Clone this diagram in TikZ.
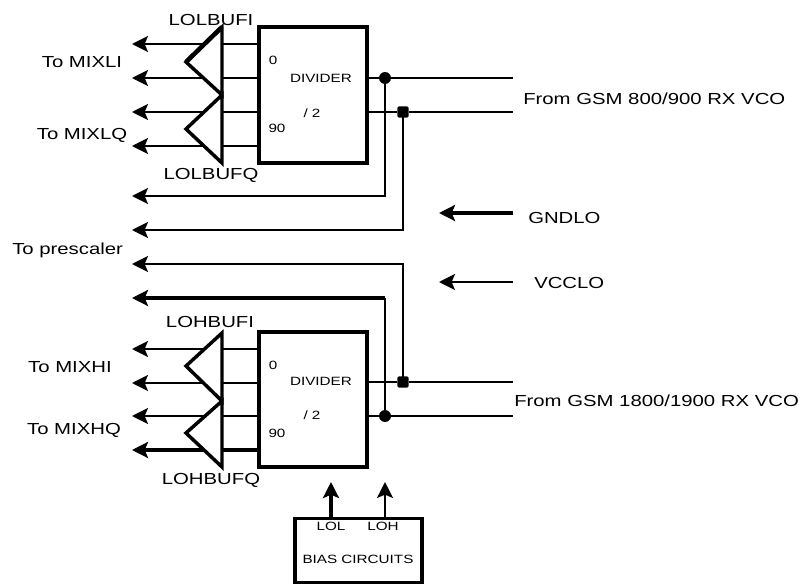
\documentclass[tikz,border=0pt]{standalone}
\usepackage{fontspec}
\usepackage{graphicx}
\setmainfont{Liberation Sans}
\usetikzlibrary{arrows.meta,calc}
\newcommand{\sx}[1]{\scalebox{1.27}[1]{#1}}
\tikzset{
  box/.style={draw,line width=2.7pt,inner sep=0pt},
  wire/.style={line width=1.4pt},
  sig/.style={line width=1.4pt,-{Stealth[length=12pt,width=12pt,inset=2.5pt]}},
  thicksig/.style={line width=2.7pt,-{Stealth[length=12pt,width=12pt,inset=2.5pt]}},
  buf/.style={line width=2.6pt,line join=miter,miter limit=3,fill=white},
  dotc/.style={circle,fill,inner sep=0pt,minimum size=9pt},
  dots/.style={rectangle,rounded corners=1.5pt,fill,inner sep=0pt,minimum size=8.5pt},
  lab/.style={font=\fontsize{12}{13}\selectfont,inner sep=0pt},
  blab/.style={font=\fontsize{9}{10}\selectfont,inner sep=0pt},
}
\begin{document}
\begin{tikzpicture}[x=0.75pt,y=-0.75pt]
\useasboundingbox (0,0) rectangle (801,585);
% coordinates: signal lines
\foreach \n/\y in {a/44,b/78,c/112,e/146,f/349,g/383,h/416,i/450}{
  \coordinate (\n R) at (259,\y);
  \coordinate (\n L) at (132,\y);
}
\foreach \n in {a,b,c,e,f,g,h} \draw[sig] (\n R) -- (\n L);
\draw[thicksig] (iR) -- (iL);
% buffers
\coordinate (t1) at (222,27); \coordinate (t2) at (222,95); \coordinate (t3) at (222,163);
\coordinate (p1) at (186,62); \coordinate (p2) at (186,129);
\coordinate (u1) at (222,333); \coordinate (u2) at (222,401); \coordinate (u3) at (222,467);
\coordinate (q1) at (186,366); \coordinate (q2) at (186,433);
\draw[buf] (t1) -- (p1) -- (t2) -- cycle;
\draw[buf] (t2) -- (p2) -- (t3) -- cycle;
\draw[line width=3.4pt] (t1) -- (p1);
\draw[buf] (u1) -- (q1) -- (u2) -- cycle;
\draw[buf] (u2) -- (q2) -- (u3) -- cycle;
% re-draw the short stubs between buffer bar and divider
\foreach \y in {44,78,112,146,349,383,416} \draw[wire] (222,\y) -- (259,\y);
\draw[line width=2.7pt] (222,450) -- (259,450);
% dividers
\node[box,minimum width=81pt,minimum height=102pt] (d1) at (313,95) {};
\node[box,minimum width=81pt,minimum height=101pt] (d2) at (313,399.5) {};
\node[box,minimum width=95pt,minimum height=48pt] (bias) at (358.5,550.5) {};
% outputs of dividers
\coordinate (o1) at (513,78); \coordinate (o2) at (513,112);
\coordinate (o3) at (513,382); \coordinate (o4) at (513,416);
\node[dotc] (j1) at (385,78) {};
\node[dots] (j2) at (403,112) {};
\node[dots] (j3) at (403,382) {};
\node[dotc] (j4) at (385,416) {};
\draw[wire] (367,78) -- (j1) -- (o1);
\draw[wire] (367,112) -- (j2) -- (o2);
\draw[wire] (367,382) -- (j3) -- (o3);
\draw[wire] (367,416) -- (j4) -- (o4);
% prescaler lines
\coordinate (l1) at (132,196); \coordinate (l2) at (132,230);
\coordinate (l3) at (132,264); \coordinate (l4) at (132,298);
\coordinate (k4) at (385,298);
\draw[sig] (j1.center) |- (l1);
\draw[sig] (j2.center) |- (l2);
\draw[sig] (j3.center) |- (l3);
\draw[wire] (j4.center) -- (k4);
\draw[thicksig] (k4) -- (l4);
% supply
\coordinate (gs) at (513,213); \coordinate (ge) at (439,213);
\coordinate (vs) at (513,282); \coordinate (ve) at (439,282);
\draw[thicksig] (gs) -- (ge);
\draw[sig] (vs) -- (ve);
% bias arrows
\coordinate (b1s) at (331,518); \coordinate (b1e) at (331,482);
\coordinate (b2s) at (385,518); \coordinate (b2e) at (385,482);
\draw[thicksig] (b1s) -- (b1e);
\draw[sig] (b2s) -- (b2e);
% labels
\node[lab] (tl1) at (211,20) {\sx{LOLBUFI}};
\node[lab] (tl2) at (211,175) {\sx{LOLBUFQ}};
\node[lab] (tl3) at (210,322) {\sx{LOHBUFI}};
\node[lab] (tl4) at (211,480) {\sx{LOHBUFQ}};
\node[lab] (m1) at (82,62) {\sx{To MIXLI}};
\node[lab] (m2) at (82,135) {\sx{To MIXLQ}};
\node[lab] (m3) at (70,367) {\sx{To MIXHI}};
\node[lab] (m4) at (74,430) {\sx{To MIXHQ}};
\node[lab,anchor=west] (pre) at (12,250) {\sx{To prescaler}};
\node[lab,anchor=west] (f1) at (523,99) {\sx{From GSM 800/900 RX VCO}};
\node[lab,anchor=west] (f2) at (514,401) {\sx{From GSM 1800/1900 RX VCO}};
\node[lab,anchor=west] (gnd) at (528,218) {\sx{GNDLO}};
\node[lab,anchor=west] (vcc) at (534,283) {\sx{VCCLO}};
\foreach \nm/\xx/\yy/\tx in {z1/273/60/0,n1x/277/128/90,z2/273/365/0,n2x/277/433/90,dv1/321/78/DIVIDER,s1/312/113/{/ 2},dv2/321/381/DIVIDER,s2/312/415/{/ 2},ll/331/526/LOL,lh/383/526/LOH,bc/358/559/BIAS CIRCUITS}{
  \node[blab] (\nm) at (\xx,\yy) {\sx{\tx}};
}
\end{tikzpicture}
\end{document}
